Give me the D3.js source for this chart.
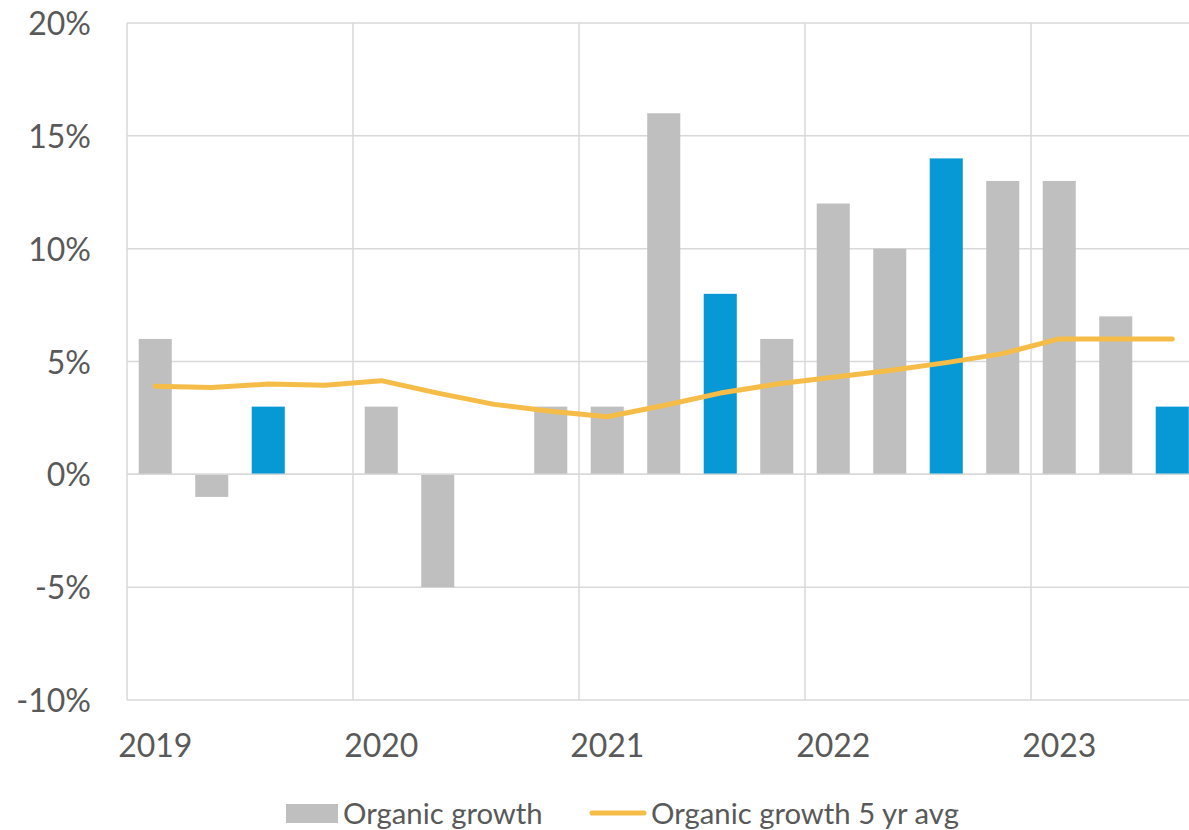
<!DOCTYPE html>
<html><head><meta charset="utf-8">
<script src="https://cdn.jsdelivr.net/npm/d3@7"></script>
<style>body{margin:0;background:#fff}svg{display:block}text{font-family:Lato,"Open Sans",sans-serif;fill:#595959}</style>
</head><body><svg id="c" width="1189" height="830"></svg>
<script>
const quarters = ["2019 Q1","2019 Q2","2019 Q3","2019 Q4","2020 Q1","2020 Q2","2020 Q3","2020 Q4","2021 Q1","2021 Q2","2021 Q3","2021 Q4","2022 Q1","2022 Q2","2022 Q3","2022 Q4","2023 Q1","2023 Q2","2023 Q3"];
const yearLabels = ["2019","2020","2021","2022","2023"];
const organicGrowth = [6,-1,3,0,3,-5,0,3,3,16,8,6,12,10,14,13,13,7,3];
const highlighted = [false,false,true,false,false,false,true,false,false,false,true,false,false,false,true,false,false,false,true];
const avg5yr = [3.9,3.85,4.0,3.95,4.15,3.6,3.1,2.8,2.55,3.05,3.6,4.0,4.3,4.6,4.95,5.35,6.0,6.0,6.0];
const yTicks = [-10,-5,0,5,10,15,20];

const svg = d3.select("#c");
const x0 = 127, step = 56.5;
const x = d3.scaleBand().domain(quarters).range([x0, x0 + step*quarters.length]).paddingInner(0.415).paddingOuter(0.2075);
const y = d3.scaleLinear().domain([-10,20]).range([700,23]);
const grid = "#d9d9d9";

// horizontal gridlines
svg.append("g").selectAll("line").data(yTicks).join("line")
  .attr("x1", x0).attr("x2", 1189).attr("y1", d=>y(d)).attr("y2", d=>y(d))
  .attr("stroke", grid).attr("stroke-width", 1.5);
// vertical year gridlines
const yearStarts = quarters.filter(q=>q.endsWith("Q1"));
svg.append("g").selectAll("line").data(yearStarts).join("line")
  .attr("x1", d=>x(d)-x.step()*x.paddingOuter()).attr("x2", d=>x(d)-x.step()*x.paddingOuter())
  .attr("y1", y(20)).attr("y2", y(-10))
  .attr("stroke", grid).attr("stroke-width", 1.5);

// bars
svg.append("g").selectAll("rect").data(organicGrowth).join("rect")
  .attr("x", (d,i)=>x(quarters[i])).attr("width", x.bandwidth())
  .attr("y", d=>y(Math.max(0,d))).attr("height", d=>Math.abs(y(d)-y(0)))
  .attr("fill", (d,i)=>highlighted[i] ? "#0798d6" : "#bfbfbf");

// zero axis line
svg.append("line").attr("x1", x0).attr("x2", 1189).attr("y1", y(0)).attr("y2", y(0)).attr("stroke", grid).attr("stroke-width", 1.5);

// line
const line = d3.line().x((d,i)=>x(quarters[i])+x.bandwidth()/2).y(d=>y(d));
svg.append("path").datum(avg5yr).attr("d", line).attr("fill","none")
  .attr("stroke","#f5bd47").attr("stroke-width",5).attr("stroke-linecap","round").attr("stroke-linejoin","round");

// y axis labels
const yAxis = d3.axisLeft(y).tickValues(yTicks).tickFormat(d=>d+"%").tickSize(0).tickPadding(0);
const ga = svg.append("g").attr("transform","translate(91,0)").call(yAxis);
ga.select(".domain").remove();
ga.selectAll("text").attr("font-size",32).attr("font-family","Lato").attr("fill","#595959").attr("dy","0.36em");

// x axis labels
const xAxis = d3.axisBottom(x).tickValues(yearStarts).tickFormat(d=>d.slice(0,4)).tickSize(0).tickPadding(0);
const gx = svg.append("g").attr("transform","translate(0,734)").call(xAxis);
gx.select(".domain").remove();
gx.selectAll("text").attr("font-size",32).attr("font-family","Lato").attr("fill","#595959").attr("dy","0.72em");

// legend
const lg = svg.append("g");
lg.append("rect").attr("x",286).attr("y",804).attr("width",52).attr("height",19).attr("fill","#bfbfbf");
lg.append("text").attr("x",343).attr("y",824).attr("font-size",29.3).text("Organic growth");
lg.append("line").attr("x1",592).attr("x2",644).attr("y1",813).attr("y2",813).attr("stroke","#f5bd47").attr("stroke-width",5).attr("stroke-linecap","round");
lg.append("text").attr("x",651).attr("y",824).attr("font-size",29.3).text("Organic growth 5 yr avg");
</script></body></html>
